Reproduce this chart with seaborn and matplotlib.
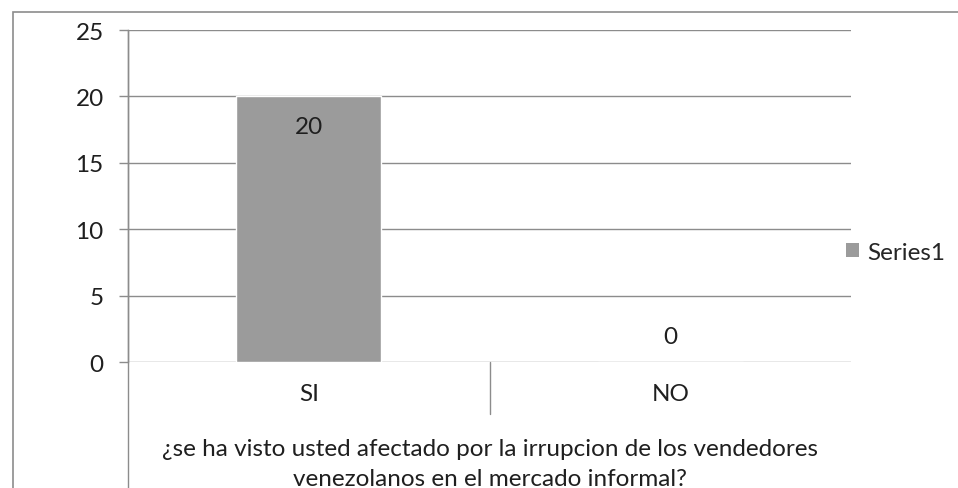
"""Gráfico de barras: afectación por vendedores venezolanos (SI / NO)."""

import matplotlib.pyplot as plt
import pandas as pd
import seaborn as sns
from matplotlib.lines import Line2D
from matplotlib.patches import Rectangle

respuestas = ["SI", "NO"]
cantidades = [20, 0]
serie = "Series1"
ticks_y = [0, 5, 10, 15, 20, 25]
titulo_linea1 = "¿se ha visto usted afectado por la irrupcion de los vendedores"
titulo_linea2 = "venezolanos en el mercado informal?"

GRIS_LINEA = "#8c8c8c"
GRIS_BARRA = "#9b9b9b"
TXT = "#1f1f1f"
FS = 17.5

df = pd.DataFrame({"Respuesta": respuestas, "Cantidad": cantidades, "Serie": serie})

sns.set_theme(style="white")
plt.rcParams["font.family"] = ["Lato", "DejaVu Sans"]

fig = plt.figure(figsize=(9.58, 4.89), dpi=100)
W, H = 958, 489
ax = fig.add_axes([128 / W, 1 - 363 / H, (851 - 128) / W, (363 - 31) / H])

sns.barplot(data=df, x="Respuesta", y="Cantidad", hue="Serie", palette=[GRIS_BARRA],
            width=0.40, dodge=False, ax=ax, legend=False, saturation=1)

ax.set_ylim(0, 25)
ax.set_xlim(-0.5, 1.5)
ax.set_yticks(ticks_y)
ax.yaxis.grid(True, color=GRIS_LINEA, linewidth=1)
ax.set_axisbelow(True)
for lado in ["top", "right", "bottom"]:
    ax.spines[lado].set_visible(False)
ax.spines["left"].set_color(GRIS_LINEA)
ax.spines["left"].set_linewidth(1)
ax.tick_params(axis="y", which="both", left=True, length=6.5, width=1, color=GRIS_LINEA,
               labelsize=FS, labelcolor=TXT, pad=11)
ax.tick_params(axis="x", bottom=False, labelsize=FS, labelcolor=TXT, pad=9)
ax.set_xlabel("")
ax.set_ylabel("")

# etiquetas de datos
for i, v in enumerate(cantidades):
    dy = -22 if v > 0 else 18
    ax.annotate(str(v), (i, v), xytext=(0, dy), textcoords="offset points",
                ha="center", va="center", fontsize=FS, color=TXT)

# separador de categorías bajo el eje
ax.add_line(Line2D([0.5, 0.5], [0, -52 / 332 * 25], color=GRIS_LINEA, lw=1, clip_on=False))

# título del eje x, pegado al borde inferior
fig.text(490 / W, 1 - 456 / H, titulo_linea1, ha="center", va="baseline", fontsize=FS, color=TXT)
fig.text(490 / W, 1 - 486 / H, titulo_linea2, ha="center", va="baseline", fontsize=FS, color=TXT)

# eje izquierdo prolongado y marco exterior
fig.add_artist(Line2D([128 / W, 128 / W], [0, 1 - 31 / H], color=GRIS_LINEA, lw=1))
fig.add_artist(Rectangle((12.5 / W, -0.1), 1.1, 1.1 - 12.5 / H, fill=False,
                         edgecolor=GRIS_LINEA, lw=1.2, transform=fig.transFigure))

handle = Rectangle((0, 0), 1, 1, facecolor=GRIS_BARRA, edgecolor="none")
fig.legend([handle], [serie], loc="center left", bbox_to_anchor=(836 / W, 1 - 253 / H),
           frameon=False, fontsize=FS, handlelength=0.55, handleheight=0.55,
           handletextpad=0.35, borderaxespad=0)

fig.savefig("out.png", dpi=100)
